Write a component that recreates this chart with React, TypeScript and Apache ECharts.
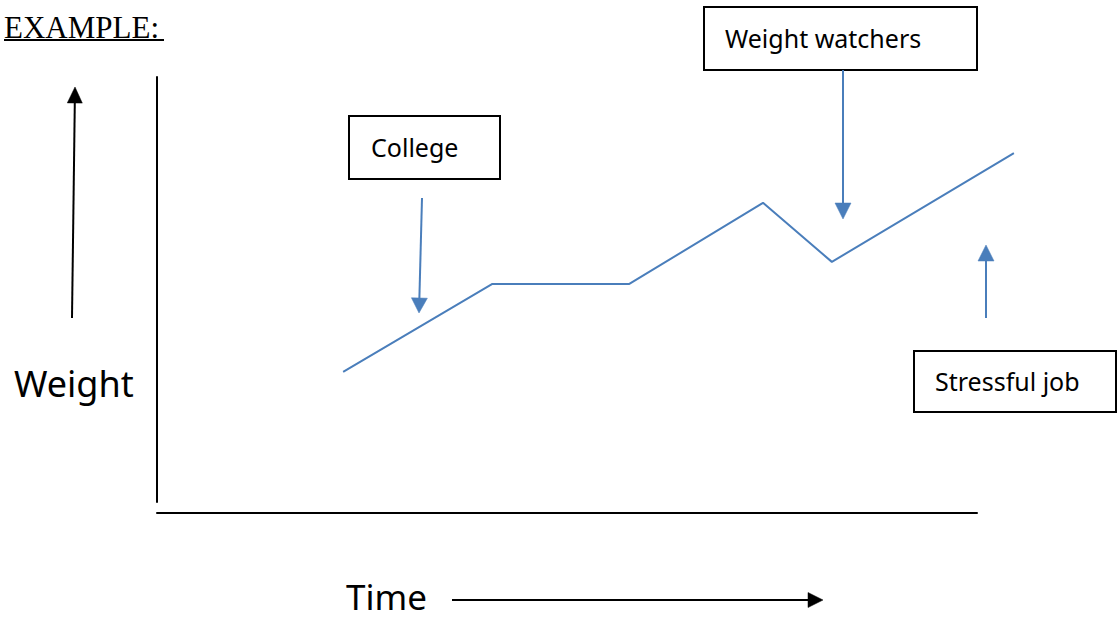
import React, { useEffect, useRef } from "react";
import * as echarts from "echarts";

const timeValues: number[] = [22.7, 40.9, 57.6, 73.9, 82.3, 104.5];
const weightValues: number[] = [30.6, 51.3, 51.3, 70.4, 56.5, 82.1];
const annotationLabels: string[] = ["College", "Weight watchers", "Stressful job"];
const titleText = "EXAMPLE:";
const yAxisLabel = "Weight";
const xAxisLabel = "Time";

const BLUE = "#4a7ebb";
const FONT = "'Noto Sans', sans-serif";

function arrow(x1: number, y1: number, x2: number, y2: number, color: string, headLen: number, headW: number, lw: number) {
  const dx = x2 - x1;
  const dy = y2 - y1;
  const len = Math.sqrt(dx * dx + dy * dy);
  const ux = dx / len;
  const uy = dy / len;
  const bx = x2 - ux * headLen;
  const by = y2 - uy * headLen;
  const px = -uy * headW / 2;
  const py = ux * headW / 2;
  return [
    { type: "line", shape: { x1, y1, x2: bx, y2: by }, style: { stroke: color, lineWidth: lw }, silent: true },
    {
      type: "polygon",
      shape: { points: [[x2, y2], [bx + px, by + py], [bx - px, by - py]] },
      style: { fill: color, stroke: color, lineWidth: 0.5 },
      silent: true,
    },
  ];
}

function box(x: number, y: number, w: number, h: number, label: string, tx: number, ty: number) {
  return [
    { type: "rect", shape: { x, y, width: w, height: h }, style: { fill: "#fff", stroke: "#000", lineWidth: 2 }, silent: true },
    {
      type: "text",
      style: { text: label, x: tx, y: ty, fill: "#000", font: `25px ${FONT}`, align: "left", verticalAlign: "middle" },
      silent: true,
    },
  ];
}

const hiddenAxis = {
  axisLine: { show: false },
  axisTick: { show: false },
  axisLabel: { show: false },
  splitLine: { show: false },
};

const shownAxis = {
  axisLine: { show: true, onZero: false, lineStyle: { color: "#000", width: 2 } },
  axisTick: { show: false },
  axisLabel: { show: false },
  splitLine: { show: false },
};

export default function App() {
  const ref = useRef<HTMLDivElement>(null);

  useEffect(() => {
    if (!ref.current) return;
    const chart = echarts.init(ref.current, null, { renderer: "svg" });
    const data = timeValues.map((t, i) => [t, weightValues[i]]);

    const graphics: any[] = [
      {
        type: "text",
        style: { text: titleText, x: 4, y: 27, fill: "#000", font: "31px 'Liberation Serif', serif", align: "left", verticalAlign: "middle" },
        silent: true,
      },
      { type: "line", shape: { x1: 4, y1: 40, x2: 164, y2: 40 }, style: { stroke: "#000", lineWidth: 2 }, silent: true },
      ...box(349, 116, 151, 63, annotationLabels[0], 371, 147),
      ...box(704, 7, 273, 63, annotationLabels[1], 725, 38),
      ...box(914, 351, 202, 61, annotationLabels[2], 935, 381),
      ...arrow(422, 198, 419, 313, BLUE, 15, 16, 2),
      ...arrow(843, 70, 843, 219, BLUE, 16, 16, 2),
      ...arrow(986, 318, 986, 245, BLUE, 16, 16, 2),
      ...arrow(72, 318, 75, 87, "#000", 16, 15, 2),
      ...arrow(452, 600, 823, 600, "#000", 15, 15, 2),
      {
        type: "text",
        style: { text: yAxisLabel, x: 14, y: 383, fill: "#000", font: `36px ${FONT}`, align: "left", verticalAlign: "middle" },
        silent: true,
      },
      {
        type: "text",
        style: { text: xAxisLabel, x: 346, y: 596, fill: "#000", font: `35px ${FONT}`, align: "left", verticalAlign: "middle" },
        silent: true,
      },
    ];

    chart.setOption({
      animation: false,
      backgroundColor: "#fff",
      grid: [
        { left: 157, right: 99, top: 77, bottom: 116 },
        { left: 157, right: 140, top: 77, bottom: 116 },
      ],
      xAxis: [
        { type: "value", gridIndex: 0, min: 0, max: 105, ...hiddenAxis },
        { type: "value", gridIndex: 1, min: 0, max: 100, position: "bottom", offset: 11, ...shownAxis },
      ],
      yAxis: [
        { type: "value", gridIndex: 0, min: 0, max: 100, ...hiddenAxis },
        { type: "value", gridIndex: 1, min: 0, max: 100, position: "left", ...shownAxis },
      ],
      series: [
        {
          type: "line",
          xAxisIndex: 0,
          yAxisIndex: 0,
          data,
          showSymbol: false,
          symbol: "none",
          lineStyle: { color: BLUE, width: 2 },
          silent: true,
        },
      ],
      graphic: graphics,
    });
    return () => chart.dispose();
  }, []);

  return (
    <div
      ref={ref}
      style={{ position: "fixed", left: 0, top: 0, width: 1117, height: 618, background: "#fff" }}
    />
  );
}
